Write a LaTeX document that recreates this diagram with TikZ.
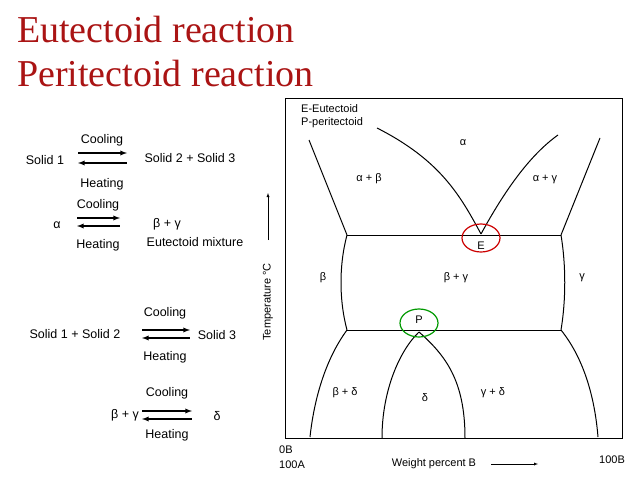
\documentclass[tikz,border=0pt]{standalone}
\usepackage{fontspec}
\setmainfont{Liberation Serif}
\newfontfamily\labelfont{Liberation Sans}
\usepackage{tikz}
\usetikzlibrary{arrows}

\definecolor{titlered}{RGB}{170,20,20}

\begin{document}
\begin{tikzpicture}[
            x=1pt, y=-1pt,
            every node/.style={font=\labelfont\fontsize{12.5}{15}\selectfont, inner sep=1pt}, % Arial-like labels
            small/.style={font=\labelfont\fontsize{11}{13}\selectfont},
            title/.style={font=\fontsize{38}{42}\selectfont, text=titlered, anchor=base west},
            phase/.style={line width=1pt},
            fwd/.style={-latex, line width=1.3pt},
            bwd/.style={latex-, line width=1.3pt}
            ]
                \useasboundingbox (0,0) rectangle (638,479);

                % Titles
                \node[title] (t1) at (16,42) {Eutectoid reaction};
                \node[title] (t2) at (16,86) {Peritectoid reaction};

                % Reactions on the left
                \node (s1) at (45,160) {Solid 1};
                \node (s23) at (190,158) {Solid 2 + Solid 3};
                \node (c1) at (102,140) {Cooling};
                \node (h1) at (102,184) {Heating};
                \draw[fwd] (78,153) -- (127,153);
                \draw[bwd] (78,163) -- (127,163);

                \node (a) at (57,225) {α};
                \node (bg1) at (167,224) {β + γ};
                \node (em) at (195,242) {Eutectoid mixture};
                \node (c2) at (98,205) {Cooling};
                \node (h2) at (98,245) {Heating};
                \draw[fwd] (77,218) -- (120,218);
                \draw[bwd] (77,226) -- (120,226);

                \node (s12) at (75,334) {Solid 1 + Solid 2};
                \node (s3) at (217,335) {Solid 3};
                \node (c3) at (165,313) {Cooling};
                \node (h3) at (165,357) {Heating};
                \draw[fwd] (142,330) -- (190,330);
                \draw[bwd] (142,338) -- (190,338);

                \node (bg2) at (125,415) {β + γ};
                \node (d1) at (217,416) {δ};
                \node (c4) at (167,393) {Cooling};
                \node (h4) at (167,435) {Heating};
                \draw[fwd] (142,411) -- (192,411);
                \draw[bwd] (142,419) -- (192,419);

                % Phase diagram frame and axes
                \draw[line width=1pt] (285,98) rectangle (622,438);
                \node[rotate=90, small] (temp) at (268,302) {Temperature °C};
                \draw[-latex] (268,240) -- (268,193);
                \node[small] (xl) at (434,464) {Weight percent B};
                \draw[-latex] (491,464) -- (538,464);
                \node[anchor=west, small] (ob) at (278,450) {0B};
                \node[anchor=west, small] (ha) at (278,465) {100A};
                \node[small] (hb) at (612,460) {100B};
                \node[anchor=west, align=left, small] (key) at (300,116) {E-Eutectoid\\P-peritectoid};

                % Phase boundaries
                \coordinate (E) at (481,234);
                \coordinate (P) at (419,332);
                \draw[phase] (347,235) -- (561,235);
                \draw[phase] (347,330) -- (561,330);
                \draw[phase] (309,140) -- (347,235);
                \draw[phase] (600,138) -- (561,235);
                \draw[phase] (377,128) .. controls (440,160) and (460,195) .. (E);
                \draw[phase] (E) .. controls (505,190) and (530,155) .. (558,135);
                \draw[phase] (347,235) .. controls (339,265) and (339,300) .. (347,330);
                \draw[phase] (561,235) .. controls (566,265) and (566,300) .. (561,330);
                \draw[phase] (347,330) .. controls (325,360) and (314,400) .. (310,437);
                \draw[phase] (561,330) .. controls (585,360) and (595,400) .. (598,437);
                \draw[phase] (382,438) .. controls (382,390) and (400,350) .. (P);
                \draw[phase] (P) .. controls (445,355) and (465,380) .. (465,438);

                % Highlight circles
                \draw[red!80!black, line width=1.2pt] (481,238) ellipse [x radius=19, y radius=14];
                \draw[green!60!black, line width=1.2pt] (419,323) ellipse [x radius=19, y radius=14];

                % Phase labels
                \node[small] (la) at (463,143) {α};
                \node[small] (lab) at (369,179) {α + β};
                \node[small] (lag) at (545,179) {α + γ};
                \node[small] (lE) at (481,246) {E};
                \node[small] (lb) at (323,278) {β};
                \node[small] (lbg) at (456,278) {β + γ};
                \node[small] (lg) at (582,278) {γ};
                \node[small] (lP) at (419,320) {P};
                \node[small] (lbd) at (345,393) {β + δ};
                \node[small] (ld) at (425,398) {δ};
                \node[small] (lgd) at (493,393) {γ + δ};
        
            \end{tikzpicture}
\end{document}
